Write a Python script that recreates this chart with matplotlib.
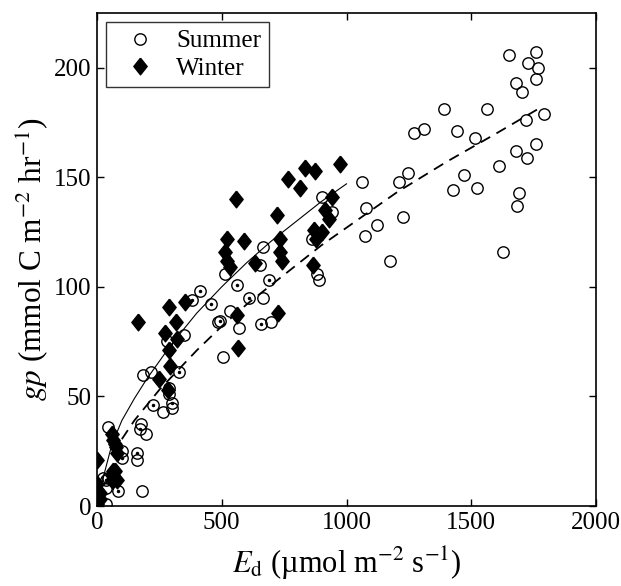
import numpy as np
import matplotlib
matplotlib.use('Agg')
import matplotlib.pyplot as plt

plt.rcParams['font.family'] = ['Liberation Serif', 'DejaVu Serif']
plt.rcParams['mathtext.fontset'] = 'stix'

# summer points (Ed, gp, has centre dot)
summer_x = [1651, 1758, 1727, 1769, 1677, 1702, 1758, 1564, 1792, 1718, 1515, 1761, 1678, 1721,
            1610, 1522, 1691, 1682, 1627, 1472, 1391, 1272, 1312, 1444, 1063, 1212, 1245, 1427,
            1077, 1228, 1123, 1074, 1174,
            903, 941, 862, 880, 891, 667, 653, 513, 562, 691, 413, 383, 456, 610, 665, 533,
            493, 486, 570, 657, 696, 504, 347, 330, 282, 186, 216, 226, 266, 287, 290, 299, 301,
            45, 172, 176, 196, 159, 159, 101, 99, 179, 86, 36, 36, 36, 25, 45]
summer_y = [206, 207, 202, 200, 193, 189, 195, 181, 179, 176, 168, 165, 162, 159,
            155, 145, 143, 137, 116, 151, 181, 170, 172, 171, 148, 148, 152, 144,
            136, 132, 128, 123, 112,
            141, 134, 122, 106, 103, 118, 110, 106, 101, 103, 98, 94, 92, 95, 95, 89,
            84.5, 84, 81, 83, 84, 68, 78, 61, 75.5, 60, 61, 46, 43, 54, 51, 47, 44.5,
            36, 35, 37.5, 33, 24, 21, 25, 22, 7, 7, 12, 8, 1, 13, 13]
summer_dot = [0] * 33 + \
             [0, 0, 0, 0, 0, 0, 0, 0, 1, 1, 1, 1, 1, 1, 0, 0,
              1, 0, 0, 1, 0, 0, 0, 1, 0, 0, 0, 1, 0, 0, 0, 1, 0,
              0, 1, 0, 0, 1, 0, 0, 1, 0, 1, 1, 0, 0, 0, 0]

winter_x = [974, 834, 874, 764, 814, 557, 720, 943, 914, 931, 870, 900, 878, 522, 590, 733,
            515, 520, 533, 743, 633, 733, 867, 562, 727, 566, 166, 289, 353, 317, 273, 322,
            290, 293, 248, 286, 59, 65, 76, 72, 79, 72, 79, 59, 65, 62, 0, 0, 0, 0, 12, 12]
winter_y = [156, 154, 153, 149, 145, 140, 133, 141, 135, 131, 126, 125, 122, 122, 121, 122,
            116, 112, 109, 112, 111, 116, 110, 87, 88, 72, 84, 91, 93, 84, 79, 76,
            71, 64, 58, 53, 33, 30, 27, 28.5, 24, 16, 12, 14, 16, 12, 21, 10, 4, 1, 6, 3]

# fitted curves
solid_x = [10, 30, 60, 100, 150, 200, 300, 400, 500, 600, 700, 800, 900, 1000]
solid_y = [5, 15, 28, 39, 49, 58, 74, 88, 100, 111, 121, 130, 139, 147]
dash_x = [100, 150, 200, 250, 300, 400, 500, 600, 700, 800, 900, 1000, 1200, 1400, 1600, 1780]
dash_y = [30.5, 39, 46, 53, 59, 71, 82, 92, 101, 110, 119, 127, 143, 157, 170, 182]

fig = plt.figure(figsize=(6.21, 5.86), dpi=100)
ax = fig.add_axes([0.156, 0.1365, 0.804, 0.8415])

diamond = [(0, 1), (0.8, 0), (0, -1), (-0.8, 0), (0, 1)]

sx = np.array(summer_x)
sy = np.array(summer_y)
sd = np.array(summer_dot, dtype=bool)
ax.plot(sx, sy, 'o', mfc='none', mec='k', mew=1.0, ms=8.2, label='Summer')
ax.plot(sx[sd], sy[sd], '.', color='k', ms=3)
ax.plot(winter_x, winter_y, ls='none', marker=diamond, mfc='k', mec='k', ms=12, label='Winter')
ax.plot(solid_x, solid_y, '-', color='k', lw=0.8)
ax.plot(dash_x, dash_y, color='k', lw=1.3, dashes=(6, 4))

ax.set_xlim(0, 2000)
ax.set_ylim(0, 225)
ax.set_xticks([0, 500, 1000, 1500, 2000])
ax.set_yticks([0, 50, 100, 150, 200])
ax.tick_params(direction='in', length=5, width=1, top=True, right=True, labelsize=18, pad=4)
for s in ax.spines.values():
    s.set_linewidth(1.2)

ax.set_xlabel(r'$E_{\rm d}$ (µmol m$^{-2}$ s$^{-1}$)', fontsize=22, labelpad=8)
ax.set_ylabel(r'$gp$ (mmol C m$^{-2}$ hr$^{-1}$)', fontsize=22.5, labelpad=2)

leg = ax.legend(loc='upper left', fontsize=18, frameon=True, fancybox=False, edgecolor='k',
                handletextpad=0.4, borderaxespad=0.38, labelspacing=0.2, handlelength=2.1,
                borderpad=0.3)
leg.get_frame().set_linewidth(1.0)

plt.savefig('out.png', dpi=100)
